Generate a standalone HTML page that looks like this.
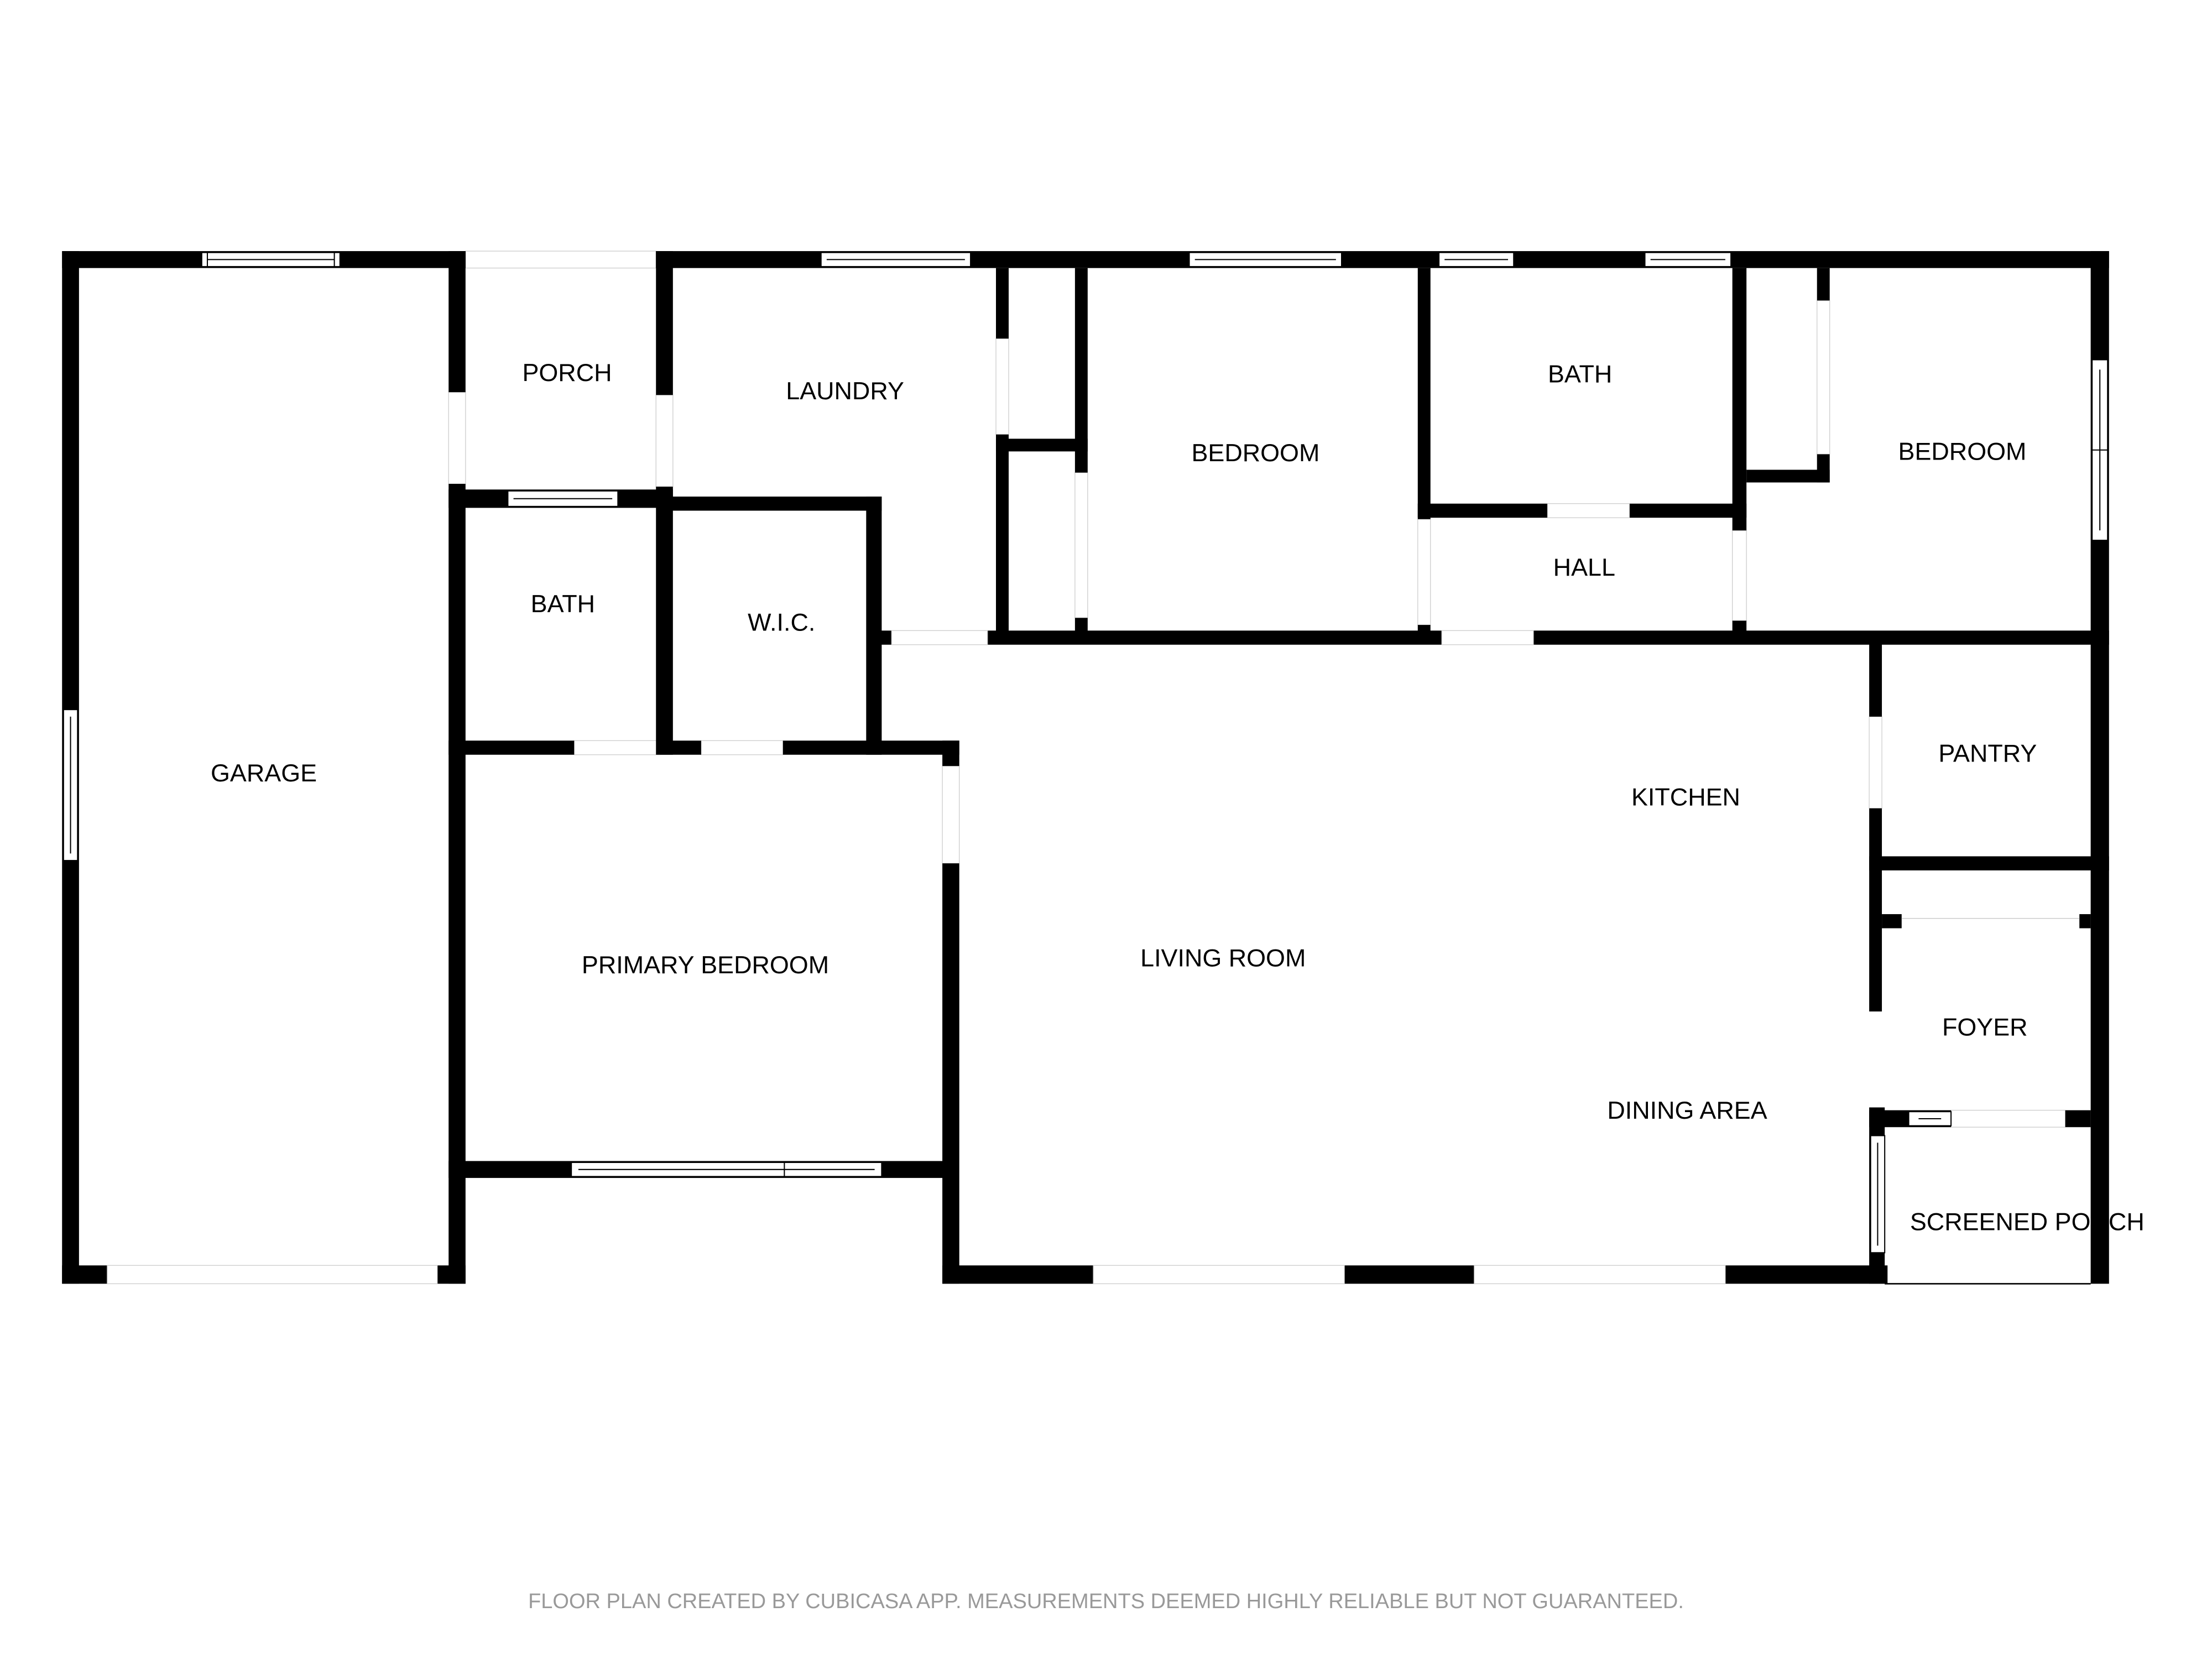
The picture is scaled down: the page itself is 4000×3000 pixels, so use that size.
<!DOCTYPE html>
<html><head><meta charset="utf-8"><style>
html,body{margin:0;padding:0;background:#fff}
svg{display:block}
text{font-family:"Liberation Sans",sans-serif;font-size:17.6px;fill:#000;text-anchor:middle}
.win{fill:#fff;stroke:#000;stroke-width:0.8}
.gap{fill:#fff;stroke:#ccc;stroke-width:0.5}
</style></head><body>
<svg width="4000" height="3000" viewBox="0 0 1568 1176" xmlns="http://www.w3.org/2000/svg">
<rect width="1568" height="1176" fill="#fff"/>
<text x="187" y="554">GARAGE</text>
<text x="402" y="270">PORCH</text>
<text x="599" y="283">LAUNDRY</text>
<text x="399" y="434">BATH</text>
<text x="554" y="447">W.I.C.</text>
<text x="890" y="327">BEDROOM</text>
<text x="1120" y="271">BATH</text>
<text x="1123" y="408">HALL</text>
<text x="1391" y="326">BEDROOM</text>
<text x="1409" y="540">PANTRY</text>
<text x="1195" y="571">KITCHEN</text>
<text x="500" y="690">PRIMARY BEDROOM</text>
<text x="867" y="685">LIVING ROOM</text>
<text x="1196" y="793">DINING AREA</text>
<text x="1407" y="734">FOYER</text>
<text x="1437" y="872">SCREENED PORCH</text>
<text x="784" y="1140" style="font-size:14.9px;fill:#999">FLOOR PLAN CREATED BY CUBICASA APP. MEASUREMENTS DEEMED HIGHLY RELIABLE BUT NOT GUARANTEED.</text>
<g class="gap">
<rect x="330" y="178" width="135" height="12"/>
<rect x="318" y="278" width="12" height="65"/>
<rect x="465" y="280" width="12" height="65"/>
<rect x="407" y="525" width="61" height="10"/>
<rect x="497" y="525" width="58" height="10"/>
<rect x="668" y="543" width="12" height="69"/>
<rect x="706" y="240" width="9" height="68"/>
<rect x="762" y="335" width="9" height="103"/>
<rect x="1005" y="368" width="9" height="75"/>
<rect x="1228" y="376" width="10" height="64"/>
<rect x="1288" y="213" width="9" height="109"/>
<rect x="1325" y="508" width="9" height="65"/>
<rect x="1383" y="787" width="81" height="12"/>
</g>
<g fill="#000">
<rect x="44" y="178" width="286" height="12"/>
<rect x="465" y="178" width="1030" height="12"/>
<rect x="44" y="178" width="12" height="732"/>
<rect x="44" y="897" width="32" height="13"/>
<rect x="310" y="897" width="20" height="13"/>
<rect x="318" y="178" width="12" height="100"/>
<rect x="318" y="343" width="12" height="567"/>
<rect x="465" y="178" width="12" height="102"/>
<rect x="465" y="345" width="12" height="190"/>
<rect x="318" y="347" width="159" height="13"/>
<rect x="466" y="352" width="159" height="10"/>
<rect x="614" y="352" width="11" height="183"/>
<rect x="318" y="525" width="89" height="10"/>
<rect x="468" y="525" width="29" height="10"/>
<rect x="555" y="525" width="125" height="10"/>
<rect x="668" y="525" width="12" height="18"/>
<rect x="668" y="612" width="12" height="298"/>
<rect x="318" y="823" width="352" height="12"/>
<rect x="668" y="897" width="670" height="13"/>
<rect x="1482" y="178" width="13" height="732"/>
<rect x="706" y="190" width="9" height="50"/>
<rect x="706" y="308" width="9" height="144"/>
<rect x="762" y="190" width="9" height="145"/>
<rect x="762" y="438" width="9" height="14"/>
<rect x="706" y="311" width="65" height="9"/>
<rect x="619" y="447" width="13" height="10"/>
<rect x="700" y="447" width="322" height="10"/>
<rect x="1087" y="447" width="408" height="10"/>
<rect x="1005" y="190" width="9" height="178"/>
<rect x="1005" y="443" width="9" height="9"/>
<rect x="1005" y="357" width="92" height="10"/>
<rect x="1155" y="357" width="83" height="10"/>
<rect x="1228" y="190" width="10" height="186"/>
<rect x="1228" y="440" width="10" height="12"/>
<rect x="1288" y="190" width="9" height="23"/>
<rect x="1288" y="322" width="9" height="20"/>
<rect x="1238" y="333" width="59" height="9"/>
<rect x="1325" y="452" width="9" height="56"/>
<rect x="1325" y="573" width="9" height="144"/>
<rect x="1325" y="785" width="11" height="125"/>
<rect x="1325" y="607" width="170" height="10"/>
<rect x="1334" y="648" width="14" height="10"/>
<rect x="1474" y="648" width="8" height="10"/>
<rect x="1325" y="787" width="58" height="12"/>
<rect x="1464" y="787" width="18" height="12"/>
</g>
<g class="win">
<rect x="143" y="179" width="98" height="10"/><line x1="147" y1="184" x2="237" y2="184"/><line x1="147" y1="179" x2="147" y2="189"/><line x1="237" y1="179" x2="237" y2="189"/>
<rect x="45" y="503" width="10" height="107"/><line x1="50" y1="508" x2="50" y2="605"/>
<rect x="360" y="348" width="78" height="11"/><line x1="364" y1="353.5" x2="434" y2="353.5"/>
<rect x="582" y="179" width="106" height="10"/><line x1="586" y1="184" x2="684" y2="184"/>
<rect x="843" y="179" width="108" height="10"/><line x1="847" y1="184" x2="947" y2="184"/>
<rect x="1020" y="179" width="53" height="10"/><line x1="1024" y1="184" x2="1069" y2="184"/>
<rect x="1166" y="179" width="61" height="10"/><line x1="1170" y1="184" x2="1223" y2="184"/>
<rect x="1483" y="255" width="11" height="128"/><line x1="1488.5" y1="262" x2="1488.5" y2="376"/><line x1="1483" y1="319" x2="1494" y2="319"/>
<rect x="405" y="824" width="220" height="10"/><line x1="410" y1="829" x2="620" y2="829"/><line x1="556" y1="824" x2="556" y2="834"/>
<rect x="1353" y="788" width="30" height="10"/><line x1="1360" y1="793" x2="1376" y2="793"/>
<rect x="1326" y="805" width="10" height="83"/><line x1="1331" y1="810" x2="1331" y2="883"/>
</g>
<g class="gap">
<rect x="76" y="897" width="234" height="13"/>
<rect x="775" y="897" width="178" height="13"/>
<rect x="1045" y="897" width="178" height="13"/>
<rect x="632" y="447" width="68" height="10"/>
<rect x="1022" y="447" width="65" height="10"/>
<rect x="1097" y="357" width="58" height="10"/>
</g>
<line x1="1336" y1="910" x2="1482" y2="910" stroke="#000" stroke-width="1"/>
<line x1="1348" y1="651" x2="1474" y2="651" stroke="#ccc" stroke-width="0.6"/>
</svg>
</body></html>
